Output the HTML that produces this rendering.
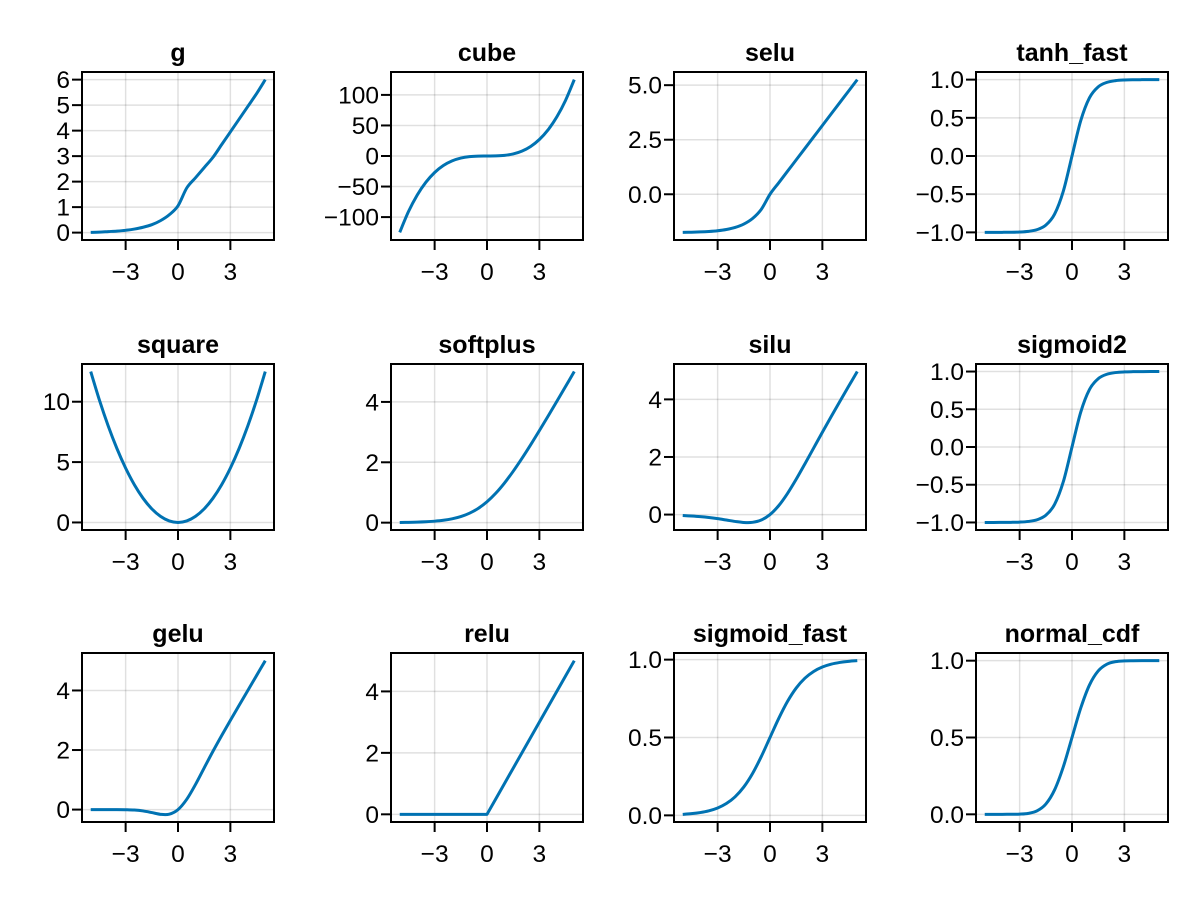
<!DOCTYPE html>
<html><head><meta charset="utf-8"><style>
html,body{margin:0;padding:0;background:#fff}
svg{display:block;font-family:"Liberation Sans",Arial,sans-serif}
</style></head><body>
<svg id="fig" width="1200" height="900" viewBox="0 0 1200 900" xmlns="http://www.w3.org/2000/svg"></svg>
<script>
const xs = [-5,-4.5,-4,-3.5,-3,-2.5,-2,-1.5,-1,-0.5,0,0.5,1,1.5,2,2.5,3,3.5,4,4.5,5];
const gVals = [0.01,0.02,0.04,0.06,0.09,0.14,0.21,0.31,0.47,0.7,1.05,1.75,2.15,2.55,2.95,3.45,3.95,4.45,4.95,5.45,6.0];
const cubeVals = [-125,-91.125,-64,-42.875,-27,-15.625,-8,-3.375,-1,-0.125,0,0.125,1,3.375,8,15.625,27,42.875,64,91.125,125];
const seluVals = [-1.7463,-1.7386,-1.7259,-1.7050,-1.6706,-1.6138,-1.5202,-1.3658,-1.1113,-0.6918,0,0.5254,1.0507,1.5761,2.1014,2.6268,3.1521,3.6775,4.2028,4.7282,5.2535];
const tanhVals = [-0.9999,-0.9998,-0.9993,-0.9982,-0.9951,-0.9866,-0.9640,-0.9051,-0.7616,-0.4621,0,0.4621,0.7616,0.9051,0.9640,0.9866,0.9951,0.9982,0.9993,0.9998,0.9999];
const squareVals = [12.5,10.125,8,6.125,4.5,3.125,2,1.125,0.5,0.125,0,0.125,0.5,1.125,2,3.125,4.5,6.125,8,10.125,12.5];
const softplusVals = [0.0067,0.0110,0.0181,0.0298,0.0486,0.0789,0.1269,0.2014,0.3133,0.4741,0.6931,0.9741,1.3133,1.7014,2.1269,2.5789,3.0486,3.5298,4.0181,4.5110,5.0067];
const siluVals = [-0.0335,-0.0495,-0.0719,-0.1026,-0.1423,-0.1897,-0.2384,-0.2736,-0.2689,-0.1888,0,0.3112,0.7311,1.2264,1.7616,2.3103,2.8577,3.3974,3.9281,4.4505,4.9665];
const sigmoid2Vals = [-0.9999,-0.9998,-0.9993,-0.9982,-0.9951,-0.9866,-0.9640,-0.9051,-0.7616,-0.4621,0,0.4621,0.7616,0.9051,0.9640,0.9866,0.9951,0.9982,0.9993,0.9998,0.9999];
const geluVals = [0,0,-0.0001,-0.0008,-0.0040,-0.0155,-0.0455,-0.1002,-0.1587,-0.1543,0,0.3457,0.8413,1.3998,1.9545,2.4845,2.9960,3.4992,3.9999,4.5,5];
const reluVals = [0,0,0,0,0,0,0,0,0,0,0,0.5,1,1.5,2,2.5,3,3.5,4,4.5,5];
const sigmoidVals = [0.0067,0.0110,0.0180,0.0293,0.0474,0.0759,0.1192,0.1824,0.2689,0.3775,0.5,0.6225,0.7311,0.8176,0.8808,0.9241,0.9526,0.9707,0.9820,0.9890,0.9933];
const normcdfVals = [0,0,0,0.0002,0.0013,0.0062,0.0228,0.0668,0.1587,0.3085,0.5,0.6915,0.8413,0.9332,0.9772,0.9938,0.9987,0.9998,1,1,1];

const xTickVals = [-3,0,3];
const xTickLabels = ["−3","0","3"];

const panels = [
 {title:"g", y:gVals, yt:[0,1,2,3,4,5,6], yl:["0","1","2","3","4","5","6"]},
 {title:"cube", y:cubeVals, yt:[-100,-50,0,50,100], yl:["−100","−50","0","50","100"]},
 {title:"selu", y:seluVals, yt:[0,2.5,5], yl:["0.0","2.5","5.0"]},
 {title:"tanh_fast", y:tanhVals, yt:[-1,-0.5,0,0.5,1], yl:["−1.0","−0.5","0.0","0.5","1.0"]},
 {title:"square", y:squareVals, yt:[0,5,10], yl:["0","5","10"]},
 {title:"softplus", y:softplusVals, yt:[0,2,4], yl:["0","2","4"]},
 {title:"silu", y:siluVals, yt:[0,2,4], yl:["0","2","4"]},
 {title:"sigmoid2", y:sigmoid2Vals, yt:[-1,-0.5,0,0.5,1], yl:["−1.0","−0.5","0.0","0.5","1.0"]},
 {title:"gelu", y:geluVals, yt:[0,2,4], yl:["0","2","4"]},
 {title:"relu", y:reluVals, yt:[0,2,4], yl:["0","2","4"], linear:true},
 {title:"sigmoid_fast", y:sigmoidVals, yt:[0,0.5,1], yl:["0.0","0.5","1.0"]},
 {title:"normal_cdf", y:normcdfVals, yt:[0,0.5,1], yl:["0.0","0.5","1.0"]}
];

const colLeft = [82,391,674,976];
const rowTop = [72,364,653];
const rowBot = [240,530,822];
const W = 192;
const NS = "http://www.w3.org/2000/svg";
const svg = document.getElementById('fig');
function mk(tag, attrs, parent){const e=document.createElementNS(NS,tag);for(const k in attrs)e.setAttribute(k,attrs[k]);parent.appendChild(e);return e;}

panels.forEach((p,i)=>{
  const L = colLeft[i%4], T = rowTop[Math.floor(i/4)], B = rowBot[Math.floor(i/4)], R = L+W;
  const slug = p.title.replace(/_/g,'-');
  const g = mk('g',{},svg);
  
  
  const xmin=Math.min(...xs), xmax=Math.max(...xs), xp=(xmax-xmin)*0.05;
  const ymin=Math.min(...p.y), ymax=Math.max(...p.y), yp=(ymax-ymin)*0.05;
  const sx = v => L + (v-(xmin-xp))/((xmax+xp)-(xmin-xp))*W;
  const sy = v => B - (v-(ymin-yp))/((ymax+yp)-(ymin-yp))*(B-T);
  xTickVals.forEach(v=>{
    const l=mk('line',{x1:sx(v),x2:sx(v),y1:T,y2:B,stroke:'rgba(0,0,0,0.12)','stroke-width':1.5},g);
    
    
  });
  p.yt.forEach(v=>{
    const l=mk('line',{x1:L,x2:R,y1:sy(v),y2:sy(v),stroke:'rgba(0,0,0,0.12)','stroke-width':1.5},g);
    
    
  });
  const pts = xs.map((x,k)=>[sx(x),sy(p.y[k])]);
  let d = 'M'+pts[0][0].toFixed(2)+','+pts[0][1].toFixed(2);
  for(let k=0;k<pts.length-1;k++){
    const p1=pts[k],p2=pts[k+1];
    if(p.linear){d+=' L'+p2[0].toFixed(2)+','+p2[1].toFixed(2);continue;}
    const p0=pts[Math.max(0,k-1)],p3=pts[Math.min(pts.length-1,k+2)];
    const c1=[p1[0]+(p2[0]-p0[0])/6,p1[1]+(p2[1]-p0[1])/6];
    const c2=[p2[0]-(p3[0]-p1[0])/6,p2[1]-(p3[1]-p1[1])/6];
    d+=' C'+c1[0].toFixed(2)+','+c1[1].toFixed(2)+' '+c2[0].toFixed(2)+','+c2[1].toFixed(2)+' '+p2[0].toFixed(2)+','+p2[1].toFixed(2);
  }
  const path=mk('path',{d:d,fill:'none',stroke:'#0072B2','stroke-width':3,'stroke-linejoin':'round','stroke-linecap':'butt'},g);
  
  
  const fr=mk('rect',{x:L,y:T,width:W,height:B-T,fill:'none',stroke:'#000','stroke-width':2},g);
  
  
  xTickVals.forEach((v,k)=>{
    mk('line',{x1:sx(v),x2:sx(v),y1:B,y2:B+10,stroke:'#000','stroke-width':2},g);
    const t=mk('text',{x:sx(v),y:B+40,'text-anchor':'middle','font-size':24.5,fill:'#000'},g);
    t.textContent=xTickLabels[k];
    
    
  });
  p.yt.forEach((v,k)=>{
    mk('line',{x1:L-10,x2:L,y1:sy(v),y2:sy(v),stroke:'#000','stroke-width':2},g);
    const t=mk('text',{x:L-12,y:sy(v)+8.5,'text-anchor':'end','font-size':24.5,fill:'#000'},g);
    t.textContent=p.yl[k];
    
    
  });
  const tt=mk('text',{x:L+W/2,y:T-11,'text-anchor':'middle','font-size':25,'font-weight':'bold',fill:'#000'},g);
  tt.textContent=p.title;
  
  
});
</script>
</body></html>
